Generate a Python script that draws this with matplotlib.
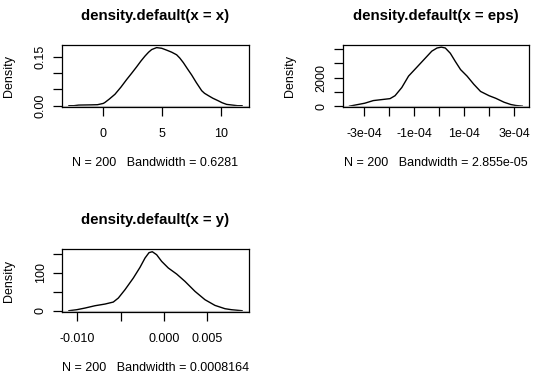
import matplotlib
matplotlib.use("Agg")
import matplotlib.pyplot as plt

plt.rcParams['font.family'] = ['Liberation Sans', 'DejaVu Sans']

# ---- density curves (x, density)
x_x = [-2.92, -2.5, -2.1, -1.0, -0.5, 0.0, 0.14, 0.5, 0.99, 1.5, 1.98, 2.4, 2.83, 3.2, 3.54,
       3.85, 4.11, 4.53, 4.96, 5.4, 5.81, 6.23, 6.5, 6.80, 7.15, 7.51, 7.9, 8.36, 8.6,
       8.92, 9.3, 9.77, 10.1, 10.48, 11.05, 11.4, 11.79]
y_x = [0.0, 0.0, 0.0018, 0.0025, 0.003, 0.007, 0.010, 0.020, 0.035, 0.057, 0.080, 0.099,
       0.119, 0.137, 0.152, 0.164, 0.172, 0.178, 0.176, 0.170, 0.164, 0.156, 0.146,
       0.132, 0.113, 0.094, 0.071, 0.046, 0.038, 0.031, 0.023, 0.015, 0.009, 0.004,
       0.0015, 0.0, 0.0]

x_eps = [-3.59e-4, -3.32e-4, -2.98e-4, -2.64e-4, -2.31e-4, -1.97e-4, -1.77e-4, -1.50e-4,
         -1.23e-4, -0.90e-4, -0.56e-4, -0.30e-4, -0.09e-4, 0.08e-4, 0.24e-4, 0.44e-4,
         0.64e-4, 0.85e-4, 1.11e-4, 1.38e-4, 1.65e-4, 1.99e-4, 2.26e-4, 2.59e-4,
         2.86e-4, 3.06e-4, 3.32e-4]
y_eps = [0, 91, 206, 389, 457, 526, 731, 1303, 2103, 2720, 3360, 3850, 4070, 4130, 4070,
         3703, 3131, 2560, 2103, 1531, 1029, 731, 549, 274, 114, 46, 0]

x_y = [-0.01097, -0.01008, -0.00912, -0.00796, -0.00681, -0.00585, -0.00527, -0.0045,
       -0.00354, -0.00277, -0.00219, -0.00173, -0.00135, -0.00085, -0.00027, 0.0005,
       0.00146, 0.00242, 0.00358, 0.00473, 0.00588, 0.00704, 0.00781, 0.00901]
y_y = [0.0, 2.6, 7, 13.2, 17.6, 22.9, 33.5, 55.6, 86.4, 114.6, 139.3, 153.5, 156,
       148.1, 130.5, 112.9, 97, 77.6, 51.1, 29.1, 14.1, 5.3, 2.6, 0.0]

titles = ['density.default(x = x)', 'density.default(x = eps)', 'density.default(x = y)']
xlabels = ['N = 200   Bandwidth = 0.6281', 'N = 200   Bandwidth = 2.855e-05',
           'N = 200   Bandwidth = 0.0008164']

xticks_x = [0, 5, 10]
xticklabels_x = ['0', '5', '10']
yticks_x = [0, 0.05, 0.10, 0.15]
yticklabels_x = ['0.00', '', '', '0.15']

xticks_eps = [-3e-4, -2e-4, -1e-4, 0, 1e-4, 2e-4, 3e-4]
xticklabels_eps = ['-3e-04', '', '-1e-04', '', '1e-04', '', '3e-04']
yticks_eps = [0, 1000, 2000, 3000, 4000]
yticklabels_eps = ['0', '', '2000', '', '']

xticks_y = [-0.010, -0.005, 0.000, 0.005]
xticklabels_y = ['-0.010', '', '0.000', '0.005']
yticks_y = [0, 50, 100, 150]
yticklabels_y = ['0', '', '100', '']

W, H = 540, 378
fig = plt.figure(figsize=(5.4, 3.78), dpi=100)


def px_axes(left, top, right, bottom):
    return fig.add_axes([left / W, 1 - bottom / H, (right - left) / W, (bottom - top) / H])


def draw_panel(box, xs, ys, xlim, ylim, xt, xtl, yt, ytl, title, xlab, ylab_x):
    left, top, right, bottom = box
    ax = px_axes(left, top, right, bottom)
    ax.plot(xs, ys, color='black', lw=1.0, zorder=2)
    # zero line goes on top of the curve, as R does
    ax.axhline(0, color='#C8C8C8', lw=0.9, zorder=3)
    ax.set_xlim(xlim)
    ax.set_ylim(ylim)
    ax.set_xticks(xt)
    ax.set_xticklabels(xtl)
    ax.set_yticks(yt)
    ax.set_yticklabels(ytl, rotation=90, va='center')
    ax.tick_params(direction='out', length=6.2, width=0.9, labelsize=9, colors='black')
    ax.tick_params(axis='x', pad=8.9)
    ax.tick_params(axis='y', pad=4.8)
    for s in ax.spines.values():
        s.set_linewidth(0.9)
        s.set_zorder(4)
    cx = (left + right) / 2
    fig.text(cx / W, 1 - (top - 29) / H, title, ha='center', va='center',
             fontsize=10.8, fontweight='bold')
    fig.text(cx / W, 1 - (bottom + 56.3) / H, xlab, ha='center', va='center', fontsize=9)
    fig.text(ylab_x / W, 1 - ((top + bottom) / 2) / H, 'Density', ha='center',
             va='center', rotation=90, fontsize=9)
    return ax


draw_panel((62, 45, 249, 107), x_x, y_x, (-3.51, 12.38), (-0.004, 0.186),
           xticks_x, xticklabels_x, yticks_x, yticklabels_x, titles[0], xlabels[0], 9.5)
draw_panel((342.7, 45, 529.3, 107), x_eps, y_eps, (-3.864e-4, 3.6e-4), (-60, 4280),
           xticks_eps, xticklabels_eps, yticks_eps, yticklabels_eps, titles[1], xlabels[1], 290)
draw_panel((62, 249.3, 249, 312), x_y, y_y, (-0.01177, 0.00981), (-3.4, 162.4),
           xticks_y, xticklabels_y, yticks_y, yticklabels_y, titles[2], xlabels[2], 9.5)

fig.savefig('out.png', dpi=100)
